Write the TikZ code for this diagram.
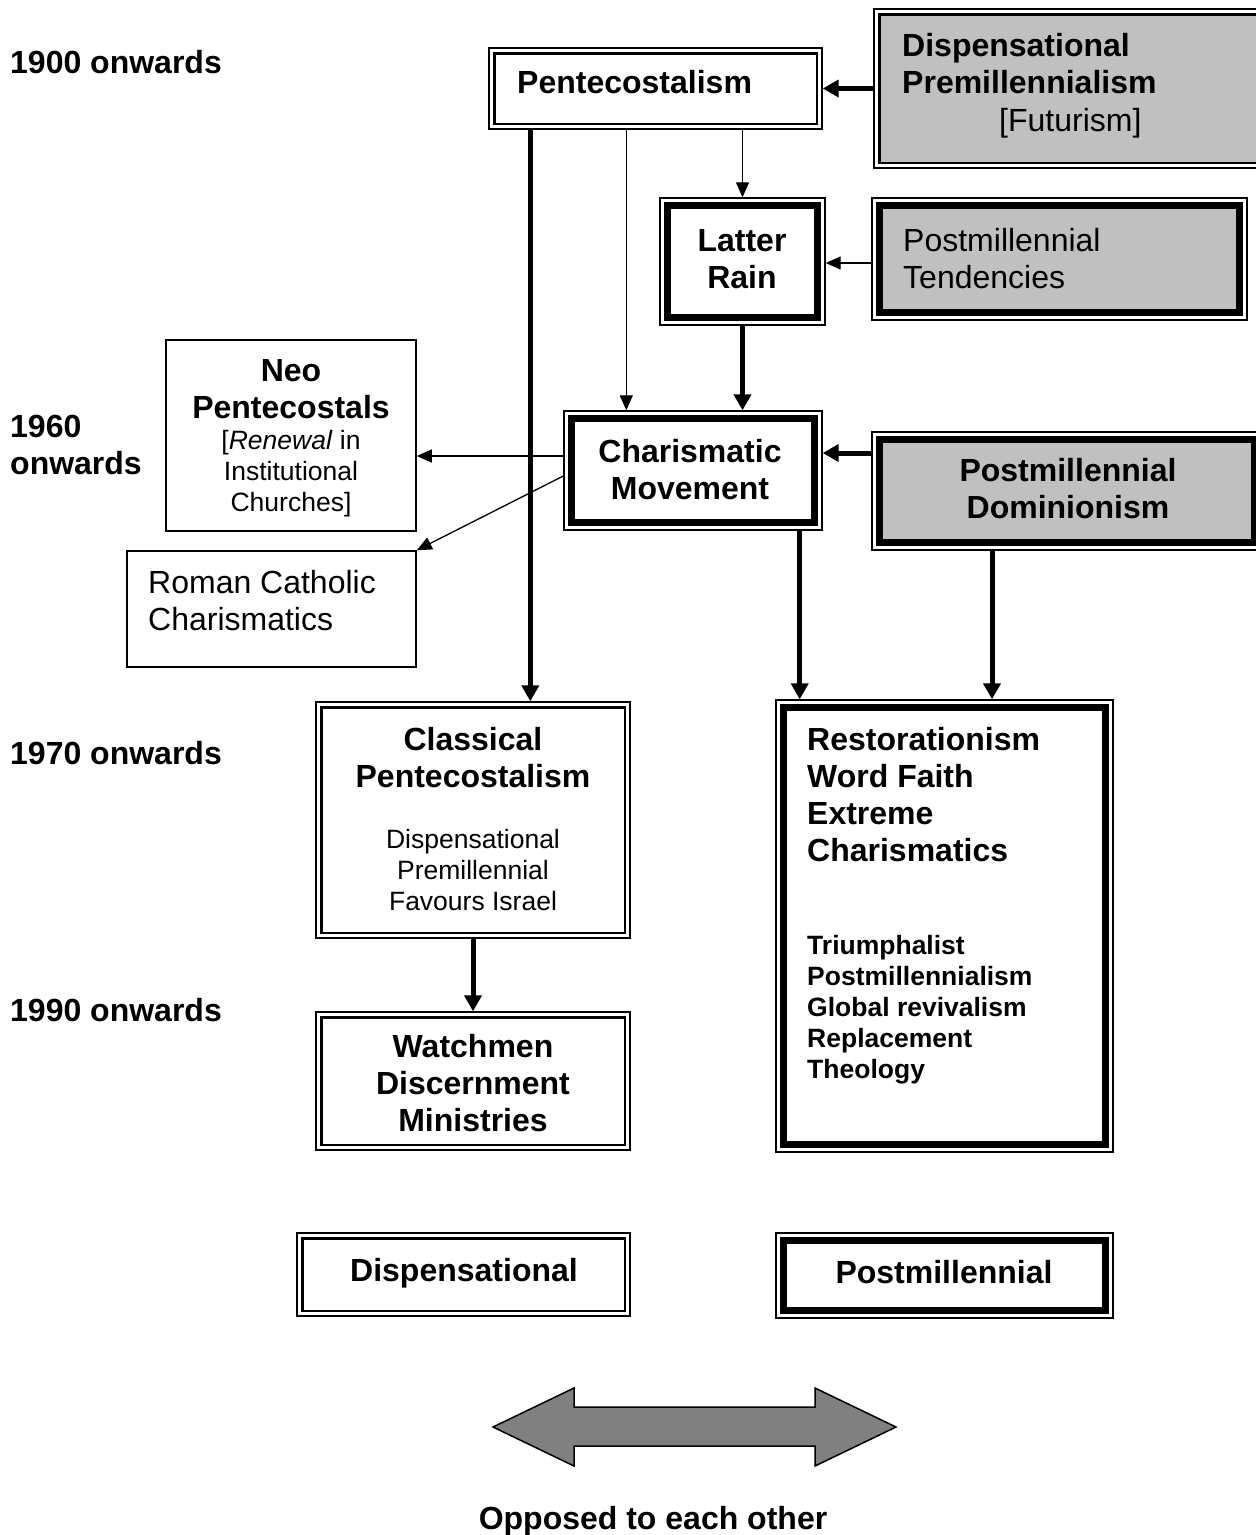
\documentclass[tikz,border=0pt]{standalone}
\usepackage{fontspec}
\setmainfont{Liberation Sans}
\usetikzlibrary{arrows.meta}
\definecolor{boxgray}{RGB}{192,192,192}
\definecolor{arrowgray}{RGB}{128,128,128}
\newcommand\txtL{\fontsize{32}{37}\selectfont}
\newcommand\txtS{\fontsize{26.5}{31}\selectfont}
\newcommand\lead{\rule{0pt}{24pt}}
\begin{document}
\begin{tikzpicture}[x=1pt,y=-1pt,
  wh/.style n args={2}{minimum width=#1, minimum height=#2},
  plainbox/.style={draw, line width=1.6pt, fill=white, inner sep=0pt},
  framebox/.style={draw, line width=1.4pt, fill=white, inner sep=0pt},
  lightframe/.style={line width=2.4pt},
  heavyframe/.style={line width=7pt},
  txtc/.style={inner sep=0pt, anchor=north, align=center},
  txtl/.style={inner sep=0pt, anchor=north west, align=left},
  bigtxt/.style={font=\txtL\bfseries},
  regtxt/.style={font=\txtL},
  smalltxt/.style={font=\txtS},
  smallbold/.style={font=\txtS\bfseries},
  heavyarrow/.style={line width=5pt, -{Triangle[length=16pt,width=17pt]}},
  lightarrow/.style={line width=1.3pt, -{Triangle[length=15pt,width=13pt]}},
  opposite/.style={draw=black, line width=1.5pt, fill=arrowgray, line join=miter}
]
\useasboundingbox (0,0) rectangle (1256,1535);
\clip (0,0) rectangle (1256,1535);

% ---- boxes ----
\node[framebox, wh={333}{81}]  (pent)    at (655.5,88.5)  {};
\node[framebox, wh={388}{159}] (dpm)     at (1068,88.5)   {};
\node[framebox, wh={165}{127}] (latter)  at (742.5,261.5) {};
\node[framebox, wh={375}{122}] (tend)    at (1059.5,259)  {};
\node[framebox, wh={258}{119}] (charis)  at (693,470.5)   {};
\node[framebox, wh={390}{118}] (dom)     at (1067,491)    {};
\node[plainbox, wh={250}{191}] (neo)     at (291,435.5)   {};
\node[plainbox, wh={289}{116}] (rc)      at (271.5,609)   {};
\node[framebox, wh={314}{236}] (classic) at (473,820)     {};
\node[framebox, wh={314}{138}] (watch)   at (473,1081)    {};
\node[framebox, wh={337}{452}] (resto)   at (944.5,926)   {};
\node[framebox, wh={333}{83}]  (disp)    at (463.5,1274.5){};
\node[framebox, wh={337}{85}]  (post)    at (944.5,1275.5){};

% inner frames: thin double lines
\foreach \n in {pent,classic,watch,disp}
  \draw[lightframe] ([shift={(6pt,-6pt)}]\n.north west) rectangle ([shift={(-6pt,6pt)}]\n.south east);
\draw[lightframe, fill=boxgray] ([shift={(6pt,-6pt)}]dpm.north west) rectangle ([shift={(-6pt,6pt)}]dpm.south east);
% inner frames: heavy line inside a thin one
\foreach \n in {latter,charis,resto,post}
  \draw[heavyframe] ([shift={(8.5pt,-8.5pt)}]\n.north west) rectangle ([shift={(-8.5pt,8.5pt)}]\n.south east);
\foreach \n in {tend,dom}
  \draw[heavyframe, fill=boxgray] ([shift={(8.5pt,-8.5pt)}]\n.north west) rectangle ([shift={(-8.5pt,8.5pt)}]\n.south east);

% ---- period labels ----
\node[txtl, bigtxt] (y1900) at (10,49.5)  {\lead 1900 onwards};
\node[txtl, bigtxt] (y1960) at (10,413.5) {\lead 1960\\onwards};
\node[txtl, bigtxt] (y1970) at (10,740.5) {\lead 1970 onwards};
\node[txtl, bigtxt] (y1990) at (10,997.5) {\lead 1990 onwards};

% ---- box texts ----
\node[txtl, bigtxt]   (pent-t)    at (517,69)    {\lead Pentecostalism};
\node[txtl, bigtxt]   (dpm-t)     at (902,32)    {\lead Dispensational\\Premillennialism};
\node[txtl, regtxt]   (dpm-f)     at (999,107)   {\lead [Futurism]};
\node[txtc, bigtxt]   (latter-t)  at (742,227)   {\lead Latter\\Rain};
\node[txtl, regtxt]   (tend-t)    at (903,227)   {\lead Postmillennial\\Tendencies};
\node[txtc, bigtxt]   (neo-t)     at (291,357)   {\lead Neo\\Pentecostals};
\node[txtc, smalltxt] (neo-s)     at (291,425.5) {\lead [\textit{Renewal} in\\Institutional\\Churches]};
\node[txtc, bigtxt]   (charis-t)  at (690,438.5) {\lead Charismatic\\Movement};
\node[txtc, bigtxt]   (dom-t)     at (1068,457.5){\lead Postmillennial\\Dominionism};
\node[txtl, regtxt]   (rc-t)      at (148,569.5) {\lead Roman Catholic\\Charismatics};
\node[txtc, bigtxt]   (classic-t) at (473,726.5) {\lead Classical\\Pentecostalism};
\node[txtc, smalltxt] (classic-s) at (473,824.5) {\lead Dispensational\\Premillennial\\Favours Israel};
\node[txtc, bigtxt]   (watch-t)   at (473,1033.5){\lead Watchmen\\Discernment\\Ministries};
\node[txtl, bigtxt]   (resto-t)   at (807,726.5) {\lead Restorationism\\Word Faith\\Extreme\\Charismatics};
\node[txtl, smallbold](resto-s)   at (807,930.5) {\lead Triumphalist\\Postmillennialism\\Global revivalism\\Replacement\\Theology};
\node[txtc, bigtxt]   (disp-t)    at (464,1257.5){\lead Dispensational};
\node[txtc, bigtxt]   (post-t)    at (944,1259.5){\lead Postmillennial};
\node[txtc, bigtxt]   (opp-t)     at (653,1505)  {\lead Opposed to each other};

% ---- connectors ----
\draw[heavyarrow] (dpm.west) -- (pent.east);
\draw[heavyarrow] ([xshift=42pt]pent.south west) -- ([xshift=42pt]pent.south west |- classic.north);
\draw[lightarrow] ([xshift=138pt]pent.south west) -- ([xshift=138pt]pent.south west |- charis.north);
\draw[lightarrow] (pent.south -| latter.north) -- (latter.north);
\draw[lightarrow] ([yshift=-4pt]tend.west) -- ([yshift=-4pt]tend.west -| latter.east);
\draw[heavyarrow] (latter.south) -- (latter.south |- charis.north);
\draw[heavyarrow] ([yshift=38pt]dom.west) -- ([yshift=38pt]dom.west -| charis.east);
\draw[lightarrow] ([yshift=14.5pt]charis.west) -- ([yshift=14.5pt]charis.west -| neo.east);
\draw[lightarrow] ([yshift=-5.5pt]charis.west) -- (rc.north east);
\draw[heavyarrow] (classic.south) -- (watch.north);
\draw[heavyarrow] ([xshift=-23pt]charis.south east) -- ([xshift=-23pt]charis.south east |- resto.north);
\draw[heavyarrow] ([xshift=-75pt]dom.south) -- ([xshift=-75pt]dom.south |- resto.north);

% ---- double-headed block arrow ----
\draw[opposite] (493,1427) -- (574,1388) -- (574,1407) -- (815,1407) -- (815,1388)
  -- (896,1427) -- (815,1466) -- (815,1446) -- (574,1446) -- (574,1466) -- cycle;
\end{tikzpicture}
\end{document}
